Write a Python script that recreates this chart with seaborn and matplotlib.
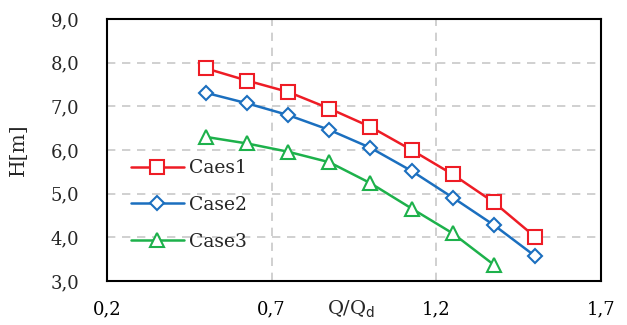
import matplotlib
matplotlib.use("Agg")
import matplotlib.pyplot as plt
import seaborn as sns
import pandas as pd
from matplotlib.ticker import FuncFormatter, FixedLocator

flow = [0.5, 0.625, 0.75, 0.875, 1.0, 1.125, 1.25, 1.375, 1.5]
case1 = [7.87, 7.59, 7.33, 6.95, 6.53, 6.00, 5.44, 4.80, 4.01]
case2 = [7.31, 7.07, 6.80, 6.46, 6.05, 5.52, 4.91, 4.28, 3.57]
case3 = [6.30, 6.15, 5.96, 5.72, 5.24, 4.66, 4.09, 3.37]
labels = ["Caes1", "Case2", "Case3"]
xticks = [0.2, 0.7, 1.2, 1.7]
yticks = [3.0, 4.0, 5.0, 6.0, 7.0, 8.0, 9.0]

sns.set_style("white")
plt.rcParams['font.family'] = ['DejaVu Serif']

rows = []
for lab, vals in zip(labels, [case1, case2, case3]):
    for q, h in zip(flow, vals):
        rows.append({"Q": q, "H": h, "case": lab})
df = pd.DataFrame(rows)

fig = plt.figure(figsize=(6.27, 3.25), dpi=100)
ax = fig.add_axes([107/627, 1-281/325, (601-107)/627, (281-19)/325])

colors = {"Caes1": "#EE1C25", "Case2": "#1B6FBF", "Case3": "#1DB14B"}
markers = {"Caes1": "s", "Case2": "D", "Case3": "^"}
msize = {"Caes1": 10, "Case2": 7.5, "Case3": 10}
for lab in labels:
    sub = df[df.case == lab]
    sns.lineplot(data=sub, x="Q", y="H", ax=ax, color=colors[lab], marker=markers[lab],
                 markersize=msize[lab], markerfacecolor="white", markeredgecolor=colors[lab],
                 markeredgewidth=1.5, linewidth=1.8, label=lab)

ax.set_xlim(0.2, 1.7)
ax.set_ylim(3.0, 9.0)
ax.xaxis.set_major_locator(FixedLocator(xticks))
ax.yaxis.set_major_locator(FixedLocator(yticks))
fmt = FuncFormatter(lambda v, p: f"{v:.1f}".replace(".", ","))
ax.xaxis.set_major_formatter(fmt)
ax.yaxis.set_major_formatter(fmt)
ax.grid(True, color="#C8C8C8", linestyle=(0, (5, 4)), linewidth=1.2)
ax.set_axisbelow(True)
for s in ax.spines.values():
    s.set_color("black")
    s.set_linewidth(1.5)
ax.tick_params(axis="x", direction="in", length=5, width=1.2, labelsize=13, pad=14, colors="black")
ax.tick_params(axis="y", length=0, labelsize=13, pad=20)
ax.set_xlabel("")
ax.set_ylabel("H[m]", fontsize=14.5)
ax.yaxis.set_label_coords((28-107)/494, (281-150)/262)
fig.text(351/627, 1-309/325, r"Q/Q$_\mathrm{d}$", fontsize=14, ha="center", va="center")

leg = ax.legend(loc="center left", bbox_to_anchor=((131-107)/494, (281-205)/262), frameon=False,
                fontsize=13.5, handlelength=2.8, labelspacing=1.0, handletextpad=0.3,
                borderaxespad=0, borderpad=0)

fig.savefig("out.png", dpi=100)
